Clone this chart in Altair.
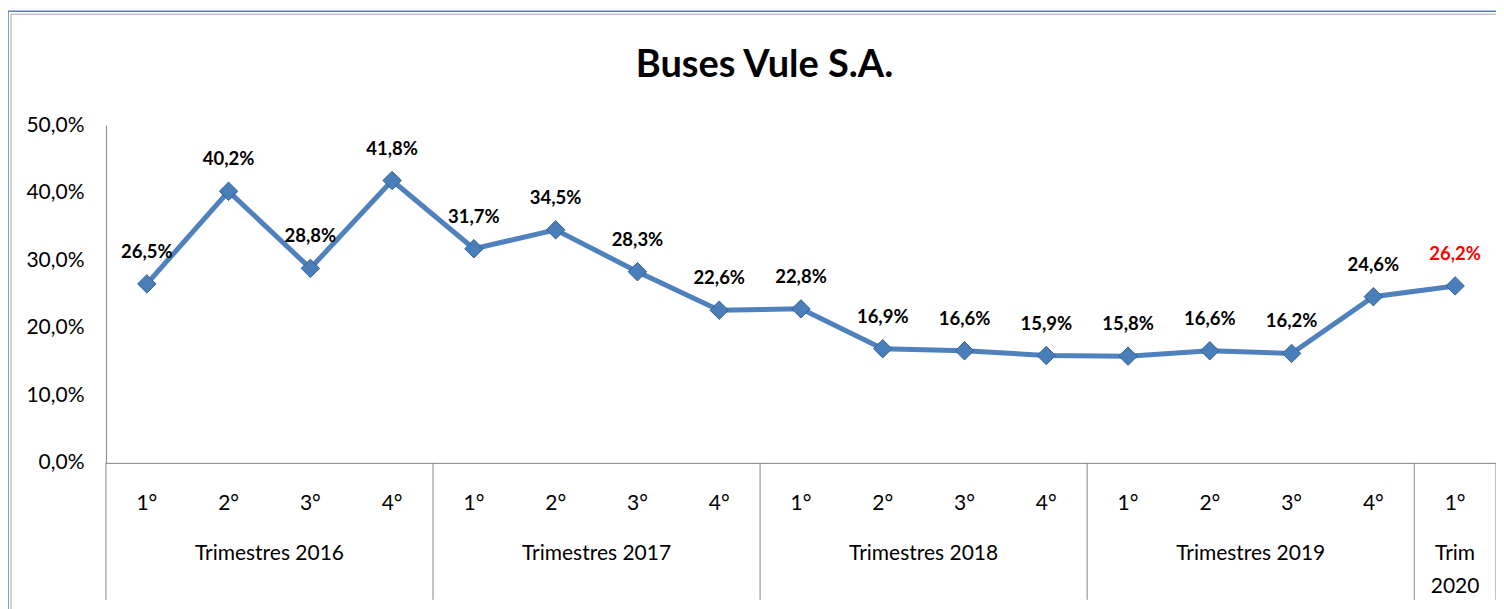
import altair as alt
import pandas as pd

TITLE = "Buses Vule S.A."
quarters = ["1°", "2°", "3°", "4°", "1°", "2°", "3°", "4°", "1°", "2°", "3°", "4°",
            "1°", "2°", "3°", "4°", "1°"]
values = [26.5, 40.2, 28.8, 41.8, 31.7, 34.5, 28.3, 22.6, 22.8, 16.9, 16.6, 15.9,
          15.8, 16.6, 16.2, 24.6, 26.2]
group_names = ["Trimestres 2016", "Trimestres 2017", "Trimestres 2018",
               "Trimestres 2019", "Trim\n2020"]
group_sizes = [4, 4, 4, 4, 1]
y_ticks = [0, 10, 20, 30, 40, 50]

FONT = "Lato"
AXIS_GREY = "#868686"
LINE_BLUE = "#4F81BD"

n = len(values)
df = pd.DataFrame({"idx": list(range(n)), "value": values, "quarter": quarters})

starts = []
s = 0
for g in group_sizes:
    starts.append(s)
    s += g
groups = pd.DataFrame({
    "name": group_names,
    "center": [st + (g - 1) / 2 for st, g in zip(starts, group_sizes)],
})
bounds = pd.DataFrame({"b": [st - 0.5 for st in starts] + [n - 0.5]})

W, H = 1391, 338
xscale = alt.Scale(domain=[-0.5, n - 0.5], nice=False, zero=False)
yscale = alt.Scale(domain=[0, 50], nice=False)
x_axis = alt.Axis(labels=False, ticks=False, grid=False, domainColor=AXIS_GREY,
                  title=None)
y_axis = alt.Axis(values=y_ticks,
                  labelExpr="replace(format(datum.value, '.1f'), '.', ',') + '%'",
                  ticks=False, grid=False, domainColor=AXIS_GREY, title=None,
                  labelFont=FONT, labelFontSize=21, labelColor="black",
                  labelPadding=22)

x_enc = alt.X("idx:Q", scale=xscale, axis=x_axis)
y_enc = alt.Y("value:Q", scale=yscale, axis=y_axis)

base = alt.Chart(df)

line = base.mark_line(color=LINE_BLUE, strokeWidth=5).encode(x=x_enc, y=y_enc)
pts = base.mark_point(shape="diamond", filled=True, size=340, color="#4A7EBB",
                      stroke="#35608F", strokeWidth=1, opacity=1).encode(x=x_enc, y=y_enc)

labels = base.transform_calculate(
    lab="replace(format(datum.value, '.1f'), '.', ',') + '%'"
).mark_text(font=FONT, fontSize=18.5, fontWeight="bold", baseline="alphabetic",
            align="center", dy=-26).encode(
    x=x_enc, y=y_enc, text="lab:N",
    color=alt.condition(alt.datum.idx == n - 1, alt.value("#FF0000"), alt.value("black")),
)

qlabels = base.mark_text(font=FONT, fontSize=21, baseline="alphabetic",
                         align="center", color="black").encode(
    x=x_enc, y=alt.value(385), text="quarter:N")

glabels = alt.Chart(groups).mark_text(font=FONT, fontSize=21, baseline="alphabetic",
                                      align="center", color="black",
                                      lineBreak="\n", lineHeight=33).encode(
    x=alt.X("center:Q", scale=xscale, axis=x_axis), y=alt.value(435), text="name:N")

seps = alt.Chart(bounds).mark_rule(color=AXIS_GREY, strokeWidth=1).encode(
    x=alt.X("b:Q", scale=xscale, axis=x_axis), y=alt.value(H), y2=alt.value(H + 137))

one = alt.Data(values=[{"k": 1}])
frame_outer = alt.Chart(one).mark_rect(fill="transparent", stroke=LINE_BLUE,
                                       strokeWidth=1.5).encode(
    x=alt.value(-98), x2=alt.value(W + 40), y=alt.value(-114), y2=alt.value(H + 200))
frame_inner = alt.Chart(one).mark_rect(fill="transparent", stroke="#A6A6A6",
                                       strokeWidth=1).encode(
    x=alt.value(-95), x2=alt.value(W + 40), y=alt.value(-111), y2=alt.value(H + 200))

title = alt.Chart(one).mark_text(font=FONT, fontSize=38, fontWeight="bold",
                                 baseline="alphabetic", align="center",
                                 color="black").encode(
    x=alt.value(659), y=alt.value(-48), text=alt.value(TITLE))

chart = alt.layer(
    frame_outer, frame_inner, title, seps, line, pts, labels, qlabels, glabels
).properties(
    width=W, height=H,
    background="white",
    autosize=alt.AutoSizeParams(type="none"),
    padding={"left": 98, "top": 117, "right": 0, "bottom": 146},
).configure_view(stroke="transparent", strokeWidth=0)

chart.save("out.html", embed_options={"renderer": "svg", "actions": False})
